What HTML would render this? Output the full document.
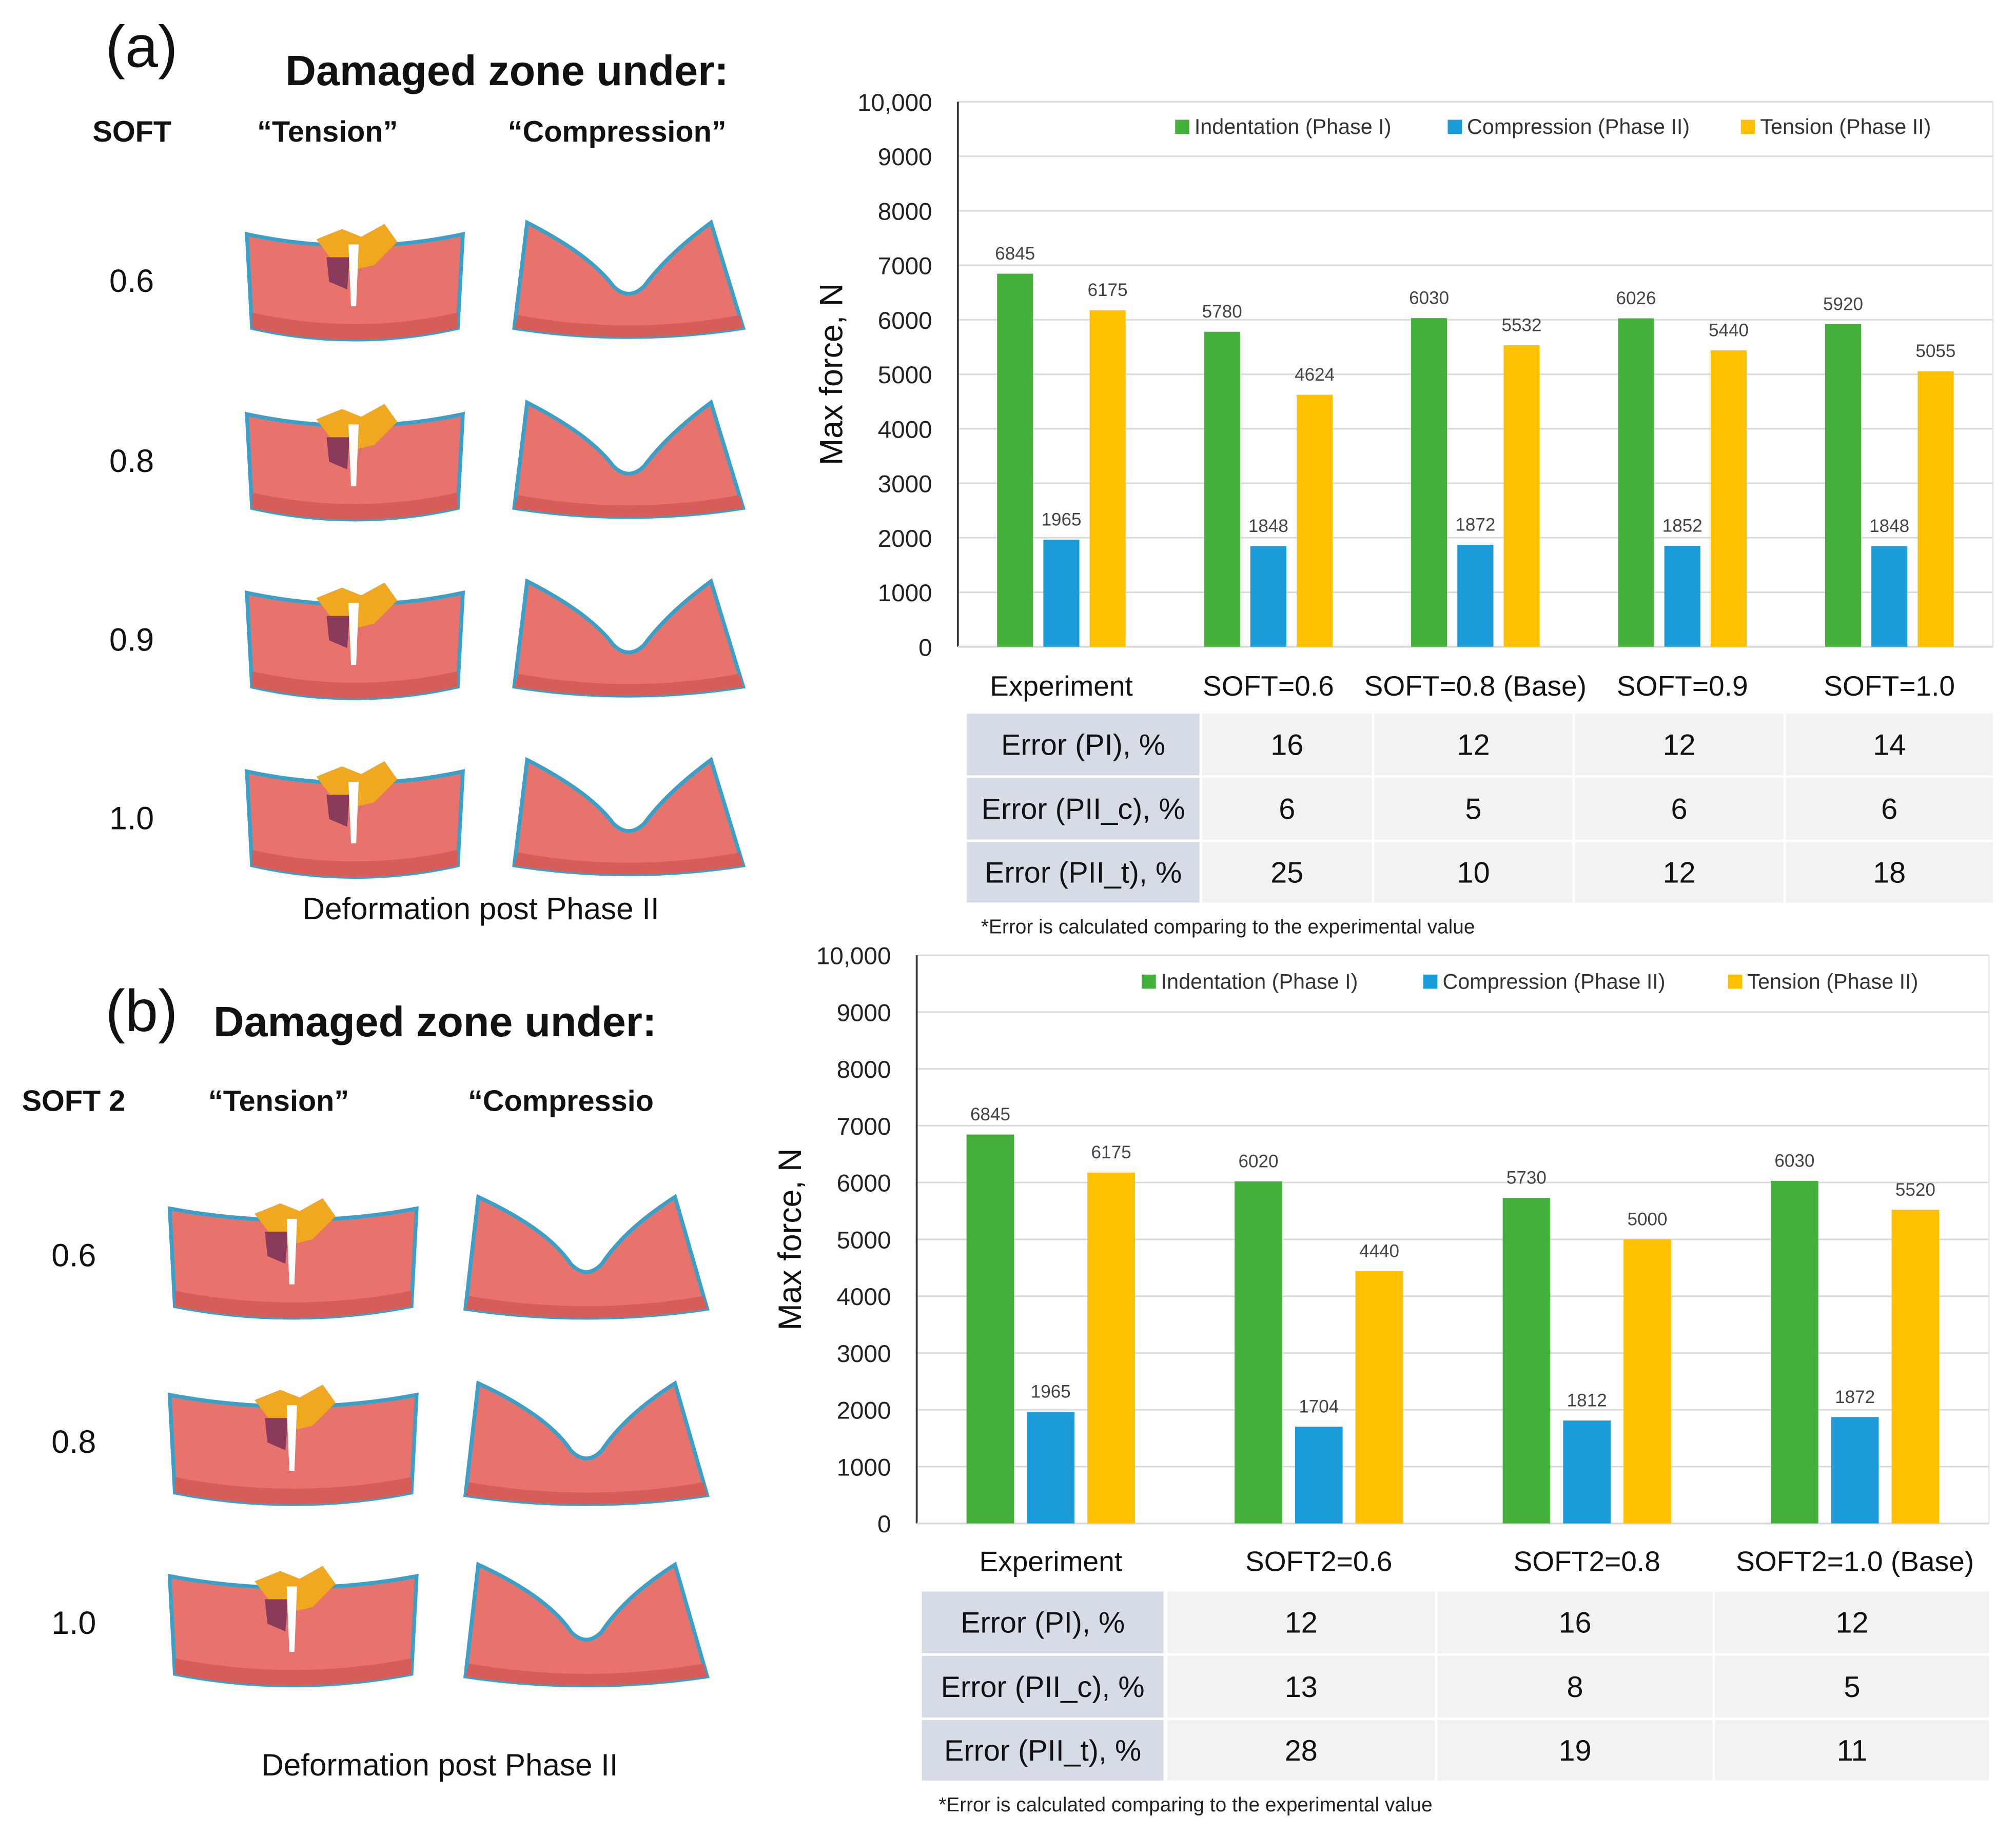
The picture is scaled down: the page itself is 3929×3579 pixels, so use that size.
<!DOCTYPE html>
<html><head><meta charset="utf-8"><style>
html,body{margin:0;padding:0;background:#fff}
svg{display:block}
text{font-family:"Liberation Sans",sans-serif}
</style></head><body>
<svg id="fig" width="3929" height="3579" viewBox="0 0 1568 1428" xmlns="http://www.w3.org/2000/svg">
<g id="left"></g>
<g id="chartA"></g>
<g id="chartB"></g>
</svg>
<script>
const NS="http://www.w3.org/2000/svg";
// ---- data chart a ----
const catsA=["Experiment","SOFT=0.6","SOFT=0.8 (Base)","SOFT=0.9","SOFT=1.0"];
const indentA=[6845,5780,6030,6026,5920];
const compA=[1965,1848,1872,1852,1848];
const tensA=[6175,4624,5532,5440,5055];
const errRowsA=["Error (PI), %","Error (PII_c), %","Error (PII_t), %"];
const errPIA=[16,12,12,14];
const errPIIcA=[6,5,6,6];
const errPIItA=[25,10,12,18];
// ---- data chart b ----
const catsB=["Experiment","SOFT2=0.6","SOFT2=0.8","SOFT2=1.0 (Base)"];
const indentB=[6845,6020,5730,6030];
const compB=[1965,1704,1812,1872];
const tensB=[6175,4440,5000,5520];
const errPIB=[12,16,12];
const errPIIcB=[13,8,5];
const errPIItB=[28,19,11];
const yTicks=[0,1000,2000,3000,4000,5000,6000,7000,8000,9000,10000];
const yTickLabels=["0","1000","2000","3000","4000","5000","6000","7000","8000","9000","10,000"];
const seriesNames=["Indentation (Phase I)","Compression (Phase II)","Tension (Phase II)"];
const colors=["#46b03c","#1b9bd8","#ffc000"];

function el(tag,attrs,parent,txt){const e=document.createElementNS(NS,tag);for(const k in attrs)e.setAttribute(k,attrs[k]);if(txt!==undefined)e.textContent=txt;parent.appendChild(e);return e;}

function chart(g,cfg){
  const {x0,x1,yTop,y0,cats,series,bw,gap,legY,catY,cols,rows,rowVals,footY,footX,titleX,keyX}=cfg;
  const y=v=>y0-(v/10000)*(y0-yTop);
  yTicks.forEach((t,i)=>{
    if(t>0){const gl=el('line',{x1:x0,x2:x1,y1:y(t),y2:y(t),stroke:'#d9d9d9','stroke-width':1.2},g);
    }
    const tl=el('text',{x:x0-20,y:y(t)+7,'font-size':19,'text-anchor':'end',fill:'#222'},g,yTickLabels[i]);
    
  });
  el('line',{x1:x1,x2:x1,y1:yTop,y2:y0,stroke:'#e6e6e6','stroke-width':1},g);
  const ax=el('line',{x1:x0,x2:x0,y1:yTop,y2:y0,stroke:'#333','stroke-width':1.5},g);
  
  const xb=el('line',{x1:x0,x2:x1,y1:y0,y2:y0,stroke:'#d9d9d9','stroke-width':1.5},g);
  
  const yt=el('text',{x:0,y:0,'font-size':25,'text-anchor':'middle',fill:'#111',transform:`translate(${titleX},${(yTop+y0)/2}) rotate(-90)`},g,"Max force, N");
  
  const gw=(x1-x0)/cats.length;
  cats.forEach((c,i)=>{
    const cx=x0+gw*(i+0.5);
    series.forEach((s,j)=>{
      const bx=cx+(j-1)*(bw+gap)-bw/2, v=s[i];
      const r=el('rect',{x:bx,y:y(v),width:bw,height:y0-y(v),fill:colors[j]},g);
      
      
      const lb=el('text',{x:bx+bw/2,y:y(v)-11,'font-size':14,'text-anchor':'middle',fill:'#444'},g,String(v));
      
    });
    const cl=el('text',{x:cx,y:catY,'font-size':22,'text-anchor':'middle',fill:'#111'},g,c);
    
  });
  seriesNames.forEach((n,j)=>{
    el('rect',{x:keyX[j],y:legY-6,width:11,height:11,fill:colors[j]},g);
    const t=el('text',{x:keyX[j]+15,y:legY+5,'font-size':16.5,fill:'#333'},g,n);
    
  });
  rows.forEach((r,ri)=>{
    const [ry0,ry1]=r;
    cols.forEach((c,ci)=>{
      el('rect',{x:c[0],y:ry0,width:c[1]-c[0],height:ry1-ry0,fill:ci==0?'#d6dce5':'#f2f2f2'},g);
      const txt=ci==0?errRowsA[ri]:String(rowVals[ri][ci-1]);
      const t=el('text',{x:(c[0]+c[1])/2,y:(ry0+ry1)/2+8,'font-size':23,'text-anchor':'middle',fill:'#111'},g,txt);
      
    });
  });
  const f=el('text',{x:footX,y:footY,'font-size':15.5,fill:'#222'},g,"*Error is calculated comparing to the experimental value");
  
}
chart(document.getElementById('chartA'),{x0:745,x1:1550,yTop:79,y0:503,cats:catsA,series:[indentA,compA,tensA],bw:28,gap:8,
  legY:99,keyX:[914,1126,1354],catY:541,titleX:655,
  cols:[[752,933],[935,1067],[1069,1223],[1225,1387],[1389,1550]],rows:[[555,603],[605,653],[655,702]],
  rowVals:[errPIA,errPIIcA,errPIItA],footY:726,footX:763});
chart(document.getElementById('chartB'),{x0:713,x1:1547,yTop:743,y0:1185,cats:catsB,series:[indentB,compB,tensB],bw:37,gap:10,
  legY:764,keyX:[888,1107,1344],catY:1222,titleX:623,
  cols:[[717,905],[908,1116],[1118,1332],[1334,1547]],rows:[[1238,1286],[1288,1336],[1338,1385]],
  rowVals:[errPIB,errPIIcB,errPIItB],footY:1409,footX:730});

// ---- left panels ----
const L=document.getElementById('left');
function txt(x,y,s,size,bold,name,anchor){const t=el('text',{x:x,y:y,'font-size':size,'font-weight':bold?'bold':'normal',fill:'#111','text-anchor':anchor||'start'},L,s);return t;}
function tension(x,y,w,h){
  const g=el('g',{},L);
  const m=x+w/2;
  el('path',{d:`M${x} ${y+4} Q${m} ${y+22} ${x+w} ${y+4} L${x+w-4} ${y+h-8} Q${m} ${y+h+10} ${x+4} ${y+h-8} Z`,fill:'#e8736c',stroke:'#3aa0c8','stroke-width':3},g);
  el('path',{d:`M${x+4} ${y+h-20} Q${m} ${y+h-2} ${x+w-4} ${y+h-20} L${x+w-4} ${y+h-8} Q${m} ${y+h+10} ${x+4} ${y+h-8}Z`,fill:'#d65d58'},g);
  el('path',{d:`M${m-30} ${y+8} l20 -8 l15 6 l18 -10 l10 14 l-18 18 l-25 6 z`,fill:'#f0a820'},g);
  el('path',{d:`M${m-22} ${y+22} l18 0 l-2 25 l-14 -6z`,fill:'#8a3a5a'},g);
  el('path',{d:`M${m-5} ${y+12} L${m+3} ${y+12} L${m+1} ${y+h-25} L${m-3} ${y+h-25}Z`,fill:'#fff'},g);
}
function compression(x,y,w,h){
  const g=el('g',{},L);
  const m=x+w/2;
  el('path',{d:`M${x+10} ${y} Q${m-30} ${y+25} ${m-12} ${y+h*0.55} Q${m} ${y+h*0.68} ${m+12} ${y+h*0.55} Q${m+30} ${y+25} ${x+w-25} ${y} L${x+w} ${y+h-8} Q${m} ${y+h+6} ${x} ${y+h-8} Z`,fill:'#e8736c',stroke:'#3aa0c8','stroke-width':3},g);
  el('path',{d:`M${x+3} ${y+h-18} Q${m} ${y+h-2} ${x+w-3} ${y+h-18} L${x+w} ${y+h-8} Q${m} ${y+h+6} ${x} ${y+h-8}Z`,fill:'#d65d58'},g);
}
txt(82,52,"(a)",46,false,'panel-label-a');
txt(222,66,"Damaged zone under:",33,true,'panel-a-title');
txt(72,110,"SOFT",23,true,'soft-header');
txt(200,110,"“Tension”",23,true,'tension-header');
txt(395,110,"“Compression”",23,true,'compression-header');
[["0.6",218],["0.8",358],["0.9",497],["1.0",636]].forEach(([s,yy],i)=>{
  txt(85,yy+9,s,25,false,'soft-value-label');
  tension(192,yy-40,168,85);compression(400,yy-45,178,90);
});
txt(374,715,"Deformation post Phase II",24,false,'panel-a-caption','middle');
txt(82,802,"(b)",46,false,'panel-label-b');
txt(166,806,"Damaged zone under:",33,true,'panel-b-title');
txt(17,864,"SOFT 2",23,true,'soft2-header');
txt(162,864,"“Tension”",23,true,'tension-header-b');
txt(364,864,"“Compressio",23,true,'compression-header-b');
[["0.6",976],["0.8",1121],["1.0",1262]].forEach(([s,yy])=>{
  txt(40,yy+9,s,25,false,'soft2-value-label');
  tension(132,yy-40,192,88);compression(362,yy-45,188,95);
});
txt(342,1381,"Deformation post Phase II",24,false,'panel-b-caption','middle');
</script>
</body></html>
